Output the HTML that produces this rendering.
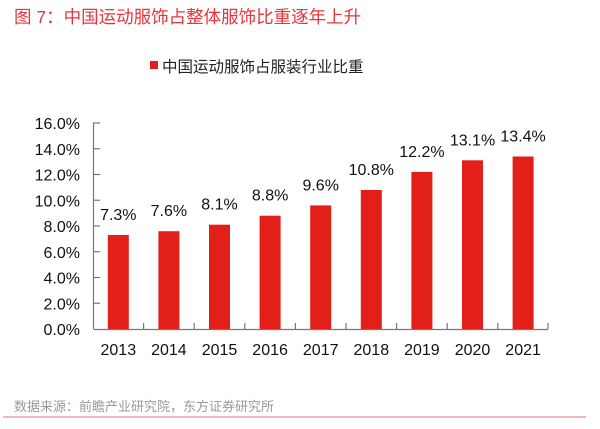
<!DOCTYPE html><html><head><meta charset="utf-8"><style>
body{margin:0;background:#fff;width:600px;height:424px;overflow:hidden}
</style></head><body>
<svg width="600" height="424" xmlns="http://www.w3.org/2000/svg" font-family="Liberation Sans, Noto Sans CJK SC, sans-serif">
<text x="14" y="23" font-size="17.5" fill="#e8343a">图 7：中国运动服饰占整体服饰比重逐年上升</text>
<rect x="150" y="61" width="8" height="8" fill="#e31f1a"/>
<text x="162" y="72" font-size="15.5" fill="#222">中国运动服饰占服装行业比重</text>
<g stroke="#777" stroke-width="1.2" fill="none">
<line x1="93.5" y1="123" x2="93.5" y2="329"/>
<line x1="93.5" y1="329.5" x2="548" y2="329.5"/>
<line x1="93" y1="303.25" x2="100" y2="303.25"/>
<line x1="93" y1="277.5" x2="100" y2="277.5"/>
<line x1="93" y1="251.75" x2="100" y2="251.75"/>
<line x1="93" y1="226" x2="100" y2="226"/>
<line x1="93" y1="200.25" x2="100" y2="200.25"/>
<line x1="93" y1="174.5" x2="100" y2="174.5"/>
<line x1="93" y1="148.75" x2="100" y2="148.75"/>
<line x1="93" y1="123" x2="100" y2="123"/>
<line x1="143.6" y1="329" x2="143.6" y2="323"/>
<line x1="194.2" y1="329" x2="194.2" y2="323"/>
<line x1="244.8" y1="329" x2="244.8" y2="323"/>
<line x1="295.4" y1="329" x2="295.4" y2="323"/>
<line x1="346" y1="329" x2="346" y2="323"/>
<line x1="396.6" y1="329" x2="396.6" y2="323"/>
<line x1="447.2" y1="329" x2="447.2" y2="323"/>
<line x1="497.8" y1="329" x2="497.8" y2="323"/>
<line x1="548" y1="329" x2="548" y2="323"/>
</g>
<g font-size="16" text-anchor="end" fill="#111">
<text x="80" y="335">0.0%</text>
<text x="80" y="309.25">2.0%</text>
<text x="80" y="283.5">4.0%</text>
<text x="80" y="257.75">6.0%</text>
<text x="80" y="232">8.0%</text>
<text x="80" y="206.25">10.0%</text>
<text x="80" y="180.5">12.0%</text>
<text x="80" y="154.75">14.0%</text>
<text x="80" y="129">16.0%</text>
</g>
<g fill="#e31f1a">
<rect x="107.8" y="235" width="21" height="94"/>
<rect x="158.4" y="231.2" width="21" height="97.8"/>
<rect x="209" y="224.7" width="21" height="104.3"/>
<rect x="259.6" y="215.7" width="21" height="113.3"/>
<rect x="310.2" y="205.4" width="21" height="123.6"/>
<rect x="360.8" y="190" width="21" height="139"/>
<rect x="411.4" y="171.9" width="21" height="157.1"/>
<rect x="462" y="160.3" width="21" height="168.7"/>
<rect x="512.6" y="156.5" width="21" height="172.5"/>
</g>
<g font-size="16" text-anchor="middle" fill="#111">
<text x="118.3" y="220">7.3%</text>
<text x="168.9" y="216.2">7.6%</text>
<text x="219.5" y="209.7">8.1%</text>
<text x="270.1" y="200.7">8.8%</text>
<text x="320.7" y="190.4">9.6%</text>
<text x="371.3" y="175">10.8%</text>
<text x="421.9" y="156.9">12.2%</text>
<text x="472.5" y="145.3">13.1%</text>
<text x="523.1" y="141.5">13.4%</text>
<text x="118.3" y="355">2013</text>
<text x="168.9" y="355">2014</text>
<text x="219.5" y="355">2015</text>
<text x="270.1" y="355">2016</text>
<text x="320.7" y="355">2017</text>
<text x="371.3" y="355">2018</text>
<text x="421.9" y="355">2019</text>
<text x="472.5" y="355">2020</text>
<text x="523.1" y="355">2021</text>
</g>
<text x="14" y="411" font-size="13" fill="#999">数据来源：前瞻产业研究院，东方证券研究所</text>
<line x1="3" y1="417" x2="586" y2="417" stroke="#f2a0a0" stroke-width="1.5"/>
</svg></body></html>
